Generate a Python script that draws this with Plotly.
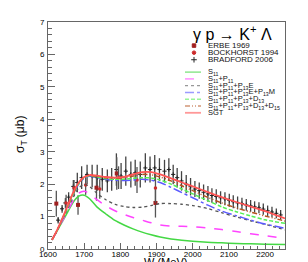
import plotly.graph_objects as go

# ---------------- data ----------------
W_model = [1611, 1625, 1640, 1655, 1670, 1685, 1700, 1715, 1735, 1760, 1785, 1810, 1835,
           1860, 1885, 1910, 1940, 1970, 2000, 2040, 2080, 2120, 2160, 2200, 2255]
s11 = [0.28, 0.55, 0.85, 1.15, 1.45, 1.63, 1.66, 1.55, 1.30, 1.08, 0.88, 0.74, 0.62,
       0.52, 0.44, 0.37, 0.31, 0.27, 0.24, 0.21, 0.19, 0.17, 0.16, 0.15, 0.14]
s11_p11 = [0.28, 0.55, 0.87, 1.18, 1.50, 1.72, 1.78, 1.70, 1.52, 1.33, 1.18, 1.07, 0.97,
           0.89, 0.81, 0.74, 0.71, 0.70, 0.69, 0.65, 0.60, 0.54, 0.47, 0.41, 0.33]
p13e = [0.28, 0.56, 0.90, 1.25, 1.60, 1.88, 2.00, 1.92, 1.72, 1.52, 1.38, 1.31, 1.28,
        1.29, 1.34, 1.40, 1.40, 1.38, 1.34, 1.25, 1.12, 0.99, 0.87, 0.76, 0.59]
p13m = [0.28, 0.57, 0.93, 1.30, 1.68, 2.00, 2.18, 2.24, 2.20, 2.15, 2.12, 2.11, 2.13,
        2.15, 2.12, 2.05, 1.90, 1.74, 1.58, 1.36, 1.17, 1.03, 0.89, 0.77, 0.64]
d13 = [0.28, 0.57, 0.93, 1.30, 1.70, 2.02, 2.20, 2.25, 2.22, 2.17, 2.15, 2.15, 2.18,
       2.20, 2.19, 2.13, 2.00, 1.85, 1.70, 1.50, 1.30, 1.15, 1.02, 0.90, 0.79]
d15 = [0.28, 0.57, 0.94, 1.32, 1.72, 2.03, 2.22, 2.27, 2.24, 2.20, 2.18, 2.20, 2.25,
       2.30, 2.29, 2.22, 2.10, 1.95, 1.80, 1.60, 1.42, 1.27, 1.14, 1.02, 0.86]
sgt = [0.28, 0.58, 0.95, 1.35, 1.75, 2.05, 2.22, 2.28, 2.26, 2.22, 2.20, 2.22, 2.30,
       2.37, 2.37, 2.30, 2.18, 2.05, 1.93, 1.76, 1.60, 1.45, 1.31, 1.17, 0.94]

W_bradford = [1628, 1639, 1648, 1657, 1670, 1681, 1693, 1708, 1722, 1736, 1750, 1764, 1776,
              1789, 1802, 1815, 1829, 1841, 1855, 1869, 1882, 1895, 1908, 1922, 1934, 1946,
              1957, 1969, 1982, 1994, 2006, 2018, 2030, 2042, 2053, 2065, 2077, 2089, 2101,
              2112, 2124, 2136, 2148, 2160, 2171, 2183, 2195, 2207, 2219, 2231, 2243]
sig_bradford = [0.89, 1.24, 1.42, 1.60, 1.93, 2.05, 2.20, 2.30, 2.25, 2.20, 2.15, 2.10, 2.15,
                2.45, 2.25, 2.40, 2.30, 2.35, 2.30, 2.50, 2.45, 2.50, 2.45, 2.40, 2.45, 2.30,
                2.20, 2.10, 2.00, 1.92, 1.85, 1.80, 1.75, 1.70, 1.65, 1.62, 1.58, 1.55, 1.50,
                1.46, 1.42, 1.40, 1.36, 1.33, 1.30, 1.27, 1.23, 1.18, 1.14, 1.10, 1.05]
err_bradford = [0.10, 0.12, 0.15, 0.15, 0.20, 0.30, 0.35, 0.30, 0.35, 0.40, 0.35, 0.35, 0.35,
                0.50, 0.40, 0.45, 0.40, 0.40, 0.40, 0.45, 0.40, 0.40, 0.35, 0.35, 0.35, 0.30,
                0.30, 0.30, 0.28, 0.27, 0.25, 0.25, 0.24, 0.24, 0.22, 0.22, 0.20, 0.20, 0.20,
                0.20, 0.20, 0.18, 0.18, 0.18, 0.17, 0.17, 0.17, 0.16, 0.16, 0.15, 0.15]

W_erbe = [1623, 1683, 1734, 1790, 1897]
sig_erbe = [1.40, 1.36, 1.89, 2.33, 1.42]
err_erbe = [0.40, 0.30, 0.40, 0.50, 0.45]

W_bock = [1650, 1672, 1704, 1743, 1795, 1846, 1897]
sig_bock = [1.42, 1.88, 1.97, 1.85, 2.20, 2.13, 1.88]
err_bock = [0.25, 0.25, 0.30, 0.30, 0.35, 0.40, 0.45]

x_ticks = [1600, 1700, 1800, 1900, 2000, 2100, 2200]
y_ticks = [0, 1, 2, 3, 4, 5, 6, 7]

legend_labels = ["S<sub>11</sub>",
                 "S<sub>11</sub>+P<sub>11</sub>",
                 "S<sub>11</sub>+P<sub>11</sub>+P<sub>13</sub>E",
                 "S<sub>11</sub>+P<sub>11</sub>+P<sub>13</sub>E+P<sub>13</sub>M",
                 "S<sub>11</sub>+P<sub>11</sub>+P<sub>13</sub>+D<sub>13</sub>",
                 "S<sub>11</sub>+P<sub>11</sub>+P<sub>13</sub>+D<sub>13</sub>+D<sub>15</sub>",
                 "SGT"]
data_labels = ["ERBE 1969", "BOCKHORST 1994", "BRADFORD 2006"]

# ---------------- figure ----------------
W_FIG, H_FIG = 308, 262
L, R, T, B = 40, 31, 10, 21

def px(x, y):
    return (x - L) / (W_FIG - L - R), (H_FIG - B - y) / (H_FIG - T - B)

fig = go.Figure()

styles = [
    (s11, "#44d844", "solid", 1.5),
    (s11_p11, "#ff44ff", "dash", 1.5),
    (p13e, "#555555", "dot", 1.3),
    (p13m, "#5a5aff", "dashdot", 1.5),
    (d13, "#55f055", "4px,2px", 1.5),
    (d15, "#b5521e", "5px,2px,1px,2px,1px,2px", 1.5),
    (sgt, "#ff5555", "solid", 1.8),
]

fig.add_trace(go.Scatter(x=W_bradford, y=sig_bradford, mode="markers",
                         error_y=dict(type="data", array=err_bradford, color="#444444",
                                      thickness=1.3, width=0),
                         marker=dict(symbol="cross-thin", size=3,
                                     line=dict(color="#222222", width=1), color="#222222"),
                         showlegend=False))
fig.add_trace(go.Scatter(x=W_erbe, y=sig_erbe, mode="markers",
                         error_y=dict(type="data", array=err_erbe, color="#555555",
                                      thickness=1.3, width=0),
                         marker=dict(symbol="square", size=4, color="#a02020"),
                         showlegend=False))
fig.add_trace(go.Scatter(x=W_bock, y=sig_bock, mode="markers",
                         error_y=dict(type="data", array=err_bock, color="#555555",
                                      thickness=1.3, width=0),
                         marker=dict(symbol="circle", size=3.5, color="#cc2a2a"),
                         showlegend=False))

for ys, col, dash, w in styles:
    fig.add_trace(go.Scatter(x=W_model, y=ys, mode="lines",
                             line=dict(color=col, dash=dash, width=w, shape="spline",
                                       smoothing=0.8),
                             showlegend=False))

annotations = []

# reaction title
tx, ty = px(224, 21)
annotations.append(dict(x=tx, y=ty, xref="paper", yref="paper", showarrow=False,
                        text="γ p → K<sup>+</sup> Λ", font=dict(size=16, color="black",
                        family="Liberation Sans"), xanchor="center", yanchor="middle"))

# data legend
marker_syms = [("square", "#a02020", 3.5), ("circle", "#cc2a2a", 3.5), ("cross-thin", "#222222", 4)]
for i, lab in enumerate(data_labels):
    yy = 34 + i * 7.2
    lx, ly = px(198, yy)
    annotations.append(dict(x=lx, y=ly, xref="paper", yref="paper", showarrow=False,
                            text=lab, font=dict(size=8, color="#111111",
                            family="Liberation Sans"), xanchor="left", yanchor="middle"))
    mx, my = px(186, yy)
    sym, col, sz = marker_syms[i]
    fig.add_trace(go.Scatter(x=[mx], y=[my], xaxis="x2", yaxis="y2", mode="markers",
                             marker=dict(symbol=sym, size=sz, color=col,
                                         line=dict(color=col, width=1)),
                             showlegend=False, hoverinfo="skip"))

# model legend
for i, lab in enumerate(legend_labels):
    yy = 61 + i * 6.9
    _, col, dash, w = styles[i]
    x0, y0 = px(177, yy)
    x1, _ = px(193, yy)
    fig.add_trace(go.Scatter(x=[x0, x1], y=[y0, y0], xaxis="x2", yaxis="y2", mode="lines",
                             line=dict(color=col, dash=dash, width=w), opacity=0.6,
                             showlegend=False, hoverinfo="skip"))
    lx, ly = px(198, yy)
    annotations.append(dict(x=lx, y=ly, xref="paper", yref="paper", showarrow=False,
                            text=lab, font=dict(size=7.5, color="#111111",
                            family="Liberation Sans"), xanchor="left", yanchor="middle"))

# axis titles
ax_, ay_ = px(157, 254.5)
annotations.append(dict(x=ax_, y=ay_, xref="paper", yref="paper", showarrow=False,
                        text="W (MeV)", font=dict(size=11, color="black",
                        family="Liberation Sans"), xanchor="center", yanchor="middle"))
bx_, by_ = px(13, 125)
annotations.append(dict(x=bx_, y=by_, xref="paper", yref="paper", showarrow=False,
                        text="σ<sub>T</sub> (μb)", textangle=-90,
                        font=dict(size=12, color="black", family="Liberation Sans"),
                        xanchor="center", yanchor="middle"))

fig.update_layout(
    width=W_FIG, height=H_FIG,
    margin=dict(l=L, r=R, t=T, b=B, pad=0),
    paper_bgcolor="white", plot_bgcolor="white",
    showlegend=False,
    font=dict(family="Liberation Sans", color="black"),
    annotations=annotations,
    xaxis=dict(range=[1600, 2255], tickmode="array", tickvals=x_ticks,
               ticks="inside", ticklen=6, tickcolor="#666666", tickwidth=1,
               minor=dict(ticks="inside", ticklen=3, dtick=20, tick0=1600,
                          tickcolor="#666666"),
               showgrid=False, zeroline=False, showline=True, linecolor="#666666",
               linewidth=1, mirror=True, ticklabelstandoff=-3,
               tickfont=dict(size=8, family="Liberation Sans", color="black")),
    yaxis=dict(range=[0, 7], tickmode="array", tickvals=y_ticks,
               ticks="inside", ticklen=7, tickcolor="#666666", tickwidth=1,
               minor=dict(ticks="inside", ticklen=3.5, dtick=0.2, tick0=0,
                          tickcolor="#666666"),
               showgrid=False, zeroline=False, showline=True, linecolor="#666666",
               linewidth=1, mirror=True,
               tickfont=dict(size=8, family="Liberation Sans", color="black"),
               ticklabelstandoff=1),
    xaxis2=dict(domain=[0, 1], range=[0, 1], overlaying="x", visible=False, anchor="y2"),
    yaxis2=dict(domain=[0, 1], range=[0, 1], overlaying="y", visible=False, anchor="x2"),
)

fig.write_html("out.html")
